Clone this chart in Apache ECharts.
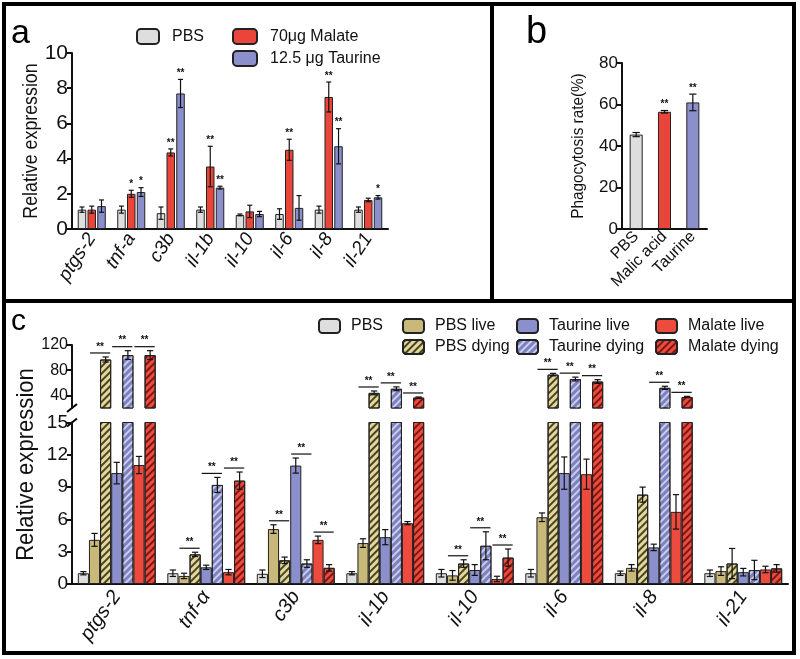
<!DOCTYPE html>
<html><head><meta charset="utf-8">
<script src="https://cdn.jsdelivr.net/npm/echarts@6/dist/echarts.min.js"></script>
<style>html,body{margin:0;padding:0;background:#fff}#main{width:800px;height:659px}</style>
</head><body><div id="main"></div>
<script>
// ---------- Panel a ----------
const catsA = ['ptgs-2','tnf-a','c3b','il-1b','il-10','il-6','il-8','il-21'];
const pbsA = [1.1, 1.1, 0.9, 1.1, 0.8, 0.85, 1.1, 1.1];
const pbsAErr = [0.15, 0.2, 0.35, 0.15, 0.05, 0.3, 0.2, 0.15];
const malA = [1.1, 2.0, 4.35, 3.55, 1.0, 4.5, 7.5, 1.65];
const malAErr = [0.2, 0.2, 0.2, 1.15, 0.35, 0.6, 0.85, 0.1];
const tauA = [1.3, 2.1, 7.7, 2.35, 0.85, 1.2, 4.7, 1.8];
const tauAErr = [0.35, 0.25, 0.8, 0.08, 0.15, 0.7, 1.0, 0.1];
const starsMalA = ['', '*', '**', '**', '', '**', '**', ''];
const starsTauA = ['', '*', '**', '**', '', '', '**', '*'];
const namesA = ['PBS', '70μg Malate', '12.5 μg Taurine'];

// ---------- Panel b ----------
const catsB = ['PBS', 'Malic acid', 'Taurine'];
const valB = [45.5, 56.5, 61];
const errB = [1, 0.6, 4];
const starsB = ['', '**', '**'];

// ---------- Panel c ----------
const catsC = ['ptgs-2','tnf-α','c3b','il-1b','il-10','il-6','il-8','il-21'];
const namesC = ['PBS','PBS live','PBS dying','Taurine live','Taurine dying','Malate live','Malate dying'];
const pbsC = [1.0, 1.0, 0.95, 1.0, 1.0, 1.0, 1.0, 1.0];
const pbsCErr = [0.15, 0.3, 0.35, 0.15, 0.35, 0.35, 0.2, 0.3];
const pbsLive = [4.1, 0.75, 5.1, 3.8, 0.8, 6.2, 1.5, 1.2];
const pbsLiveErr = [0.6, 0.25, 0.4, 0.4, 0.45, 0.4, 0.3, 0.4];
const pbsDying = [97, 2.75, 2.2, 44, 1.9, 73, 8.3, 1.9];
const pbsDyingErr = [4, 0.2, 0.3, 3, 0.35, 2, 0.7, 1.4];
const tauLive = [10.3, 1.55, 11.0, 4.35, 1.3, 10.3, 3.4, 1.1];
const tauLiveErr = [1.0, 0.2, 0.7, 0.7, 0.5, 1.5, 0.3, 0.35];
const tauDying = [104, 9.2, 1.9, 50.5, 3.55, 66, 52, 1.3];
const tauDyingErr = [7, 0.7, 0.35, 3, 1.3, 3, 2.5, 0.9];
const malLive = [11.05, 1.1, 4.1, 5.65, 0.47, 10.2, 6.7, 1.35];
const malLiveErr = [0.8, 0.25, 0.35, 0.15, 0.25, 1.4, 1.6, 0.3];
const malDying = [104, 9.6, 1.5, 36.5, 2.45, 62, 37.5, 1.45];
const malDyingErr = [7, 0.8, 0.3, 1, 0.8, 3, 1, 0.35];
// significance (live vs dying) per group: PBS, Taurine, Malate
const sigPBS = [1, 1, 1, 1, 1, 1, 0, 0];
const sigTau = [1, 1, 1, 1, 1, 1, 1, 0];
const sigMal = [1, 1, 1, 1, 1, 1, 1, 0];
const upperTicks = [40, 80, 120];

const FONT = "'Liberation Sans',Arial,sans-serif";
const INK = '#111';
const BREAK_LO = 15, BREAK_HI = 20;

const cGray = '#dedede', cRed = '#e9453b', cBlue = '#8b8fcb', cKhaki = '#c8b87a';
function decal(col, a, b) {
  return {symbol: 'rect', symbolSize: 1, dashArrayX: [1, 0], dashArrayY: [a, b], rotation: -Math.PI / 4, color: col};
}
const stylesC = [
  {color: cGray},
  {color: cKhaki},
  {color: '#e3d898', decal: decal('rgba(45,40,20,0.85)', 1.5, 2.5)},
  {color: cBlue},
  {color: '#7c81c4', decal: decal('rgba(255,255,255,0.6)', 1.2, 2.8)},
  {color: '#ee4a3e'},
  {color: '#ee4a3e', decal: decal('rgba(110,20,15,0.9)', 1.5, 2.5)}
];
stylesC.forEach(s => { s.borderColor = '#222'; s.borderWidth = 1; });
const valsC = [pbsC, pbsLive, pbsDying, tauLive, tauDying, malLive, malDying];
const errsC = [pbsCErr, pbsLiveErr, pbsDyingErr, tauLiveErr, tauDyingErr, malLiveErr, malDyingErr];

const GAP_A = 0.29, BGAP_A = 0.15, GAP_B = 0.54, GAP_C = 0.13, BGAP_C = 0;

function slotX(api, ci, v, sIdx, nS, catGap, barGap) {
  const band = api.size([1, 0])[0];
  const groupW = band * (1 - catGap);
  const w = groupW / (nS + (nS - 1) * barGap);
  const c = api.coord([ci, v])[0];
  return {x: c - groupW / 2 + sIdx * w * (1 + barGap) + w / 2, w: w};
}
function txt(x, y, text, font, va) {
  return {x: x, y: y, text: text, fill: INK, font: font, align: 'center', verticalAlign: va,
          textAlign: 'center', textVerticalAlign: va};
}
function errSeries(xi, yi, vals, errs, stars, sIdx, nS, catGap, barGap, keep) {
  const data = [];
  vals.forEach((v, i) => { if (keep(v)) data.push([i, v, errs[i], stars ? stars[i] : '']); });
  return {
    type: 'custom', xAxisIndex: xi, yAxisIndex: yi, z: 20, silent: true, clip: false,
    data: data.map(d => [d[0], d[1], d[2]]), encode: {x: 0, y: 1},
    renderItem: function (params, api) {
      const d = data[params.dataIndex];
      const ci = d[0], v = d[1], e = d[2], st = d[3];
      const s = slotX(api, ci, v, sIdx, nS, catGap, barGap);
      const yT = api.coord([ci, v + e])[1], yB = api.coord([ci, v - e])[1];
      const h = Math.max(2.5, s.w * 0.28);
      const ls = {stroke: INK, lineWidth: 1.2};
      const ch = [
        {type: 'line', shape: {x1: s.x, y1: yT, x2: s.x, y2: yB}, style: ls},
        {type: 'line', shape: {x1: s.x - h, y1: yT, x2: s.x + h, y2: yT}, style: ls},
        {type: 'line', shape: {x1: s.x - h, y1: yB, x2: s.x + h, y2: yB}, style: ls}
      ];
      if (st) ch.push({type: 'text', style: txt(s.x, yT - 1, st, 'bold 10px ' + FONT, 'bottom')});
      return {type: 'group', children: ch};
    }
  };
}
function sigSeries(xi, yi, upper) {
  const sigs = [sigPBS, sigTau, sigMal];
  const data = [];
  for (let i = 0; i < catsC.length; i++) {
    for (let p = 0; p < 3; p++) {
      if (!sigs[p][i]) continue;
      const li = 1 + 2 * p, di = 2 + 2 * p;
      const dv = valsC[di][i];
      const isUp = dv > BREAK_LO;
      if (isUp !== upper) continue;
      let top = dv + errsC[di][i];
      if (!isUp) top = Math.max(top, valsC[li][i] + errsC[li][i]);
      data.push([i, top, li, di]);
    }
  }
  return {
    type: 'custom', xAxisIndex: xi, yAxisIndex: yi, z: 20, silent: true, clip: false,
    data: data, encode: {x: 0, y: 1},
    renderItem: function (params, api) {
      const ci = api.value(0), top = api.value(1), li = api.value(2), di = api.value(3);
      const a = slotX(api, ci, top, li, 7, GAP_C, BGAP_C);
      const b = slotX(api, ci, top, di, 7, GAP_C, BGAP_C);
      const y = api.coord([ci, top])[1] - 4;
      const x1 = a.x - a.w / 2 + 1, x2 = b.x + b.w / 2 - 1;
      return {type: 'group', children: [
        {type: 'line', shape: {x1: x1, y1: y, x2: x2, y2: y}, style: {stroke: INK, lineWidth: 1.2}},
        {type: 'text', style: txt((x1 + x2) / 2, y - 1, '**', 'bold 10px ' + FONT, 'bottom')}
      ]};
    }
  };
}

const axisLineStyle = {show: true, lineStyle: {color: INK, width: 2}};
const yTick = {show: true, length: 5, lineStyle: {color: INK, width: 2}};

const series = [];
// panel a bars
const colorsA = [cGray, cRed, cBlue];
[pbsA, malA, tauA].forEach((vals, k) => {
  series.push({type: 'bar', name: namesA[k], xAxisIndex: 0, yAxisIndex: 0, data: vals,
    barCategoryGap: (GAP_A * 100) + '%', barGap: (BGAP_A * 100) + '%',
    itemStyle: {color: colorsA[k], borderColor: '#222', borderWidth: 1}});
});
series.push(errSeries(0, 0, pbsA, pbsAErr, null, 0, 3, GAP_A, BGAP_A, () => true));
series.push(errSeries(0, 0, malA, malAErr, starsMalA, 1, 3, GAP_A, BGAP_A, () => true));
series.push(errSeries(0, 0, tauA, tauAErr, starsTauA, 2, 3, GAP_A, BGAP_A, () => true));
// panel b
const colorsB = [cGray, cRed, cBlue];
series.push({type: 'bar', name: 'Phagocytosis', xAxisIndex: 1, yAxisIndex: 1, barCategoryGap: (GAP_B * 100) + '%',
  data: valB.map((v, i) => ({value: v, itemStyle: {color: colorsB[i], borderColor: '#222', borderWidth: 1}}))});
series.push(errSeries(1, 1, valB, errB, starsB, 0, 1, GAP_B, 0, () => true));
// panel c bars: upper (axis 2) and lower (axis 3)
namesC.forEach((nm, k) => {
  series.push({type: 'bar', name: nm, xAxisIndex: 3, yAxisIndex: 3, data: valsC[k], clip: true,
    barCategoryGap: (GAP_C * 100) + '%', barGap: '0%', itemStyle: stylesC[k]});
});
namesC.forEach((nm, k) => {
  series.push({type: 'bar', name: nm, xAxisIndex: 2, yAxisIndex: 2, clip: true,
    data: valsC[k].map(v => v > BREAK_LO ? v : '-'),
    barCategoryGap: (GAP_C * 100) + '%', barGap: '0%', itemStyle: stylesC[k]});
});
namesC.forEach((nm, k) => {
  series.push(errSeries(3, 3, valsC[k], errsC[k], null, k, 7, GAP_C, BGAP_C, v => v <= BREAK_LO));
  series.push(errSeries(2, 2, valsC[k], errsC[k], null, k, 7, GAP_C, BGAP_C, v => v > BREAK_LO));
});
series.push(sigSeries(3, 3, false));
series.push(sigSeries(2, 2, true));

const legText = (fs, pad, lh) => ({color: INK, fontFamily: FONT, fontSize: fs, lineHeight: lh, padding: [0, 0, 0, pad]});
const legBase = {padding: 0, selectedMode: false};
const option = {
  animation: false,
  backgroundColor: '#fff',
  textStyle: {fontFamily: FONT, color: INK},
  grid: [
    {left: 72, top: 53, width: 316, height: 176},
    {left: 622, top: 63, width: 85, height: 166},
    {left: 72, top: 345, width: 716, height: 63},
    {left: 72, top: 422.5, width: 716, height: 161.5}
  ],
  xAxis: [
    {gridIndex: 0, type: 'category', data: catsA, axisLine: axisLineStyle, axisTick: {show: false},
      axisLabel: {rotate: 57, margin: 6, fontSize: 19, fontStyle: 'italic', color: INK, fontFamily: FONT, interval: 0}},
    {gridIndex: 1, type: 'category', data: catsB, axisLine: axisLineStyle, axisTick: {show: false},
      axisLabel: {rotate: 45, margin: 5, fontSize: 16, color: INK, fontFamily: FONT, interval: 0}},
    {gridIndex: 2, type: 'category', data: catsC, show: false},
    {gridIndex: 3, type: 'category', data: catsC, axisLine: axisLineStyle, axisTick: {show: false},
      axisLabel: {rotate: 55, margin: 9, fontSize: 20, fontStyle: 'italic', color: INK, fontFamily: FONT, interval: 0}}
  ],
  yAxis: [
    {gridIndex: 0, type: 'value', min: 0, max: 10, interval: 2, axisLine: axisLineStyle, axisTick: yTick,
      splitLine: {show: false}, axisLabel: {fontSize: 21, margin: 4, color: INK, fontFamily: FONT}},
    {gridIndex: 1, type: 'value', min: 0, max: 80, interval: 20, axisLine: axisLineStyle, axisTick: yTick,
      splitLine: {show: false}, axisLabel: {fontSize: 17, margin: 4, color: INK, fontFamily: FONT}},
    {gridIndex: 2, type: 'value', min: BREAK_HI, max: 120, axisLine: axisLineStyle,
      axisTick: {show: true, length: 5, lineStyle: {color: INK, width: 2}, customValues: upperTicks},
      splitLine: {show: false},
      axisLabel: {fontSize: 16, margin: 4, color: INK, fontFamily: FONT, customValues: upperTicks}},
    {gridIndex: 3, type: 'value', min: 0, max: BREAK_LO, interval: 3, axisLine: axisLineStyle, axisTick: yTick,
      splitLine: {show: false}, axisLabel: {fontSize: 19, margin: 4, color: INK, fontFamily: FONT}}
  ],
  legend: [
    Object.assign({data: ['PBS'], left: 136, top: 28, itemWidth: 22, itemHeight: 15, textStyle: legText(16, 8, 15)}, legBase),
    Object.assign({data: ['70μg Malate', '12.5 μg Taurine'], orient: 'vertical', left: 232, top: 28, itemGap: 5,
      itemWidth: 24, itemHeight: 15, textStyle: legText(16, 8, 15)}, legBase),
    Object.assign({data: ['PBS'], left: 318, top: 318, itemWidth: 21, itemHeight: 14, textStyle: legText(16, 6, 14)}, legBase),
    Object.assign({data: ['PBS live', 'PBS dying'], orient: 'vertical', left: 402, top: 318, itemGap: 5,
      itemWidth: 21, itemHeight: 14, textStyle: legText(16, 6, 14)}, legBase),
    Object.assign({data: ['Taurine live', 'Taurine dying'], orient: 'vertical', left: 516, top: 318, itemGap: 5,
      itemWidth: 21, itemHeight: 14, textStyle: legText(16, 6, 14)}, legBase),
    Object.assign({data: ['Malate live', 'Malate dying'], orient: 'vertical', left: 655, top: 318, itemGap: 5,
      itemWidth: 21, itemHeight: 14, textStyle: legText(16, 6, 14)}, legBase)
  ],
  series: series
};

const chart = echarts.init(document.getElementById('main'), null, {renderer: 'canvas'});
chart.setOption(option);

// decorations: panel frames, panel letters, broken-axis marks, rotated axis titles
const yUpBot = chart.convertToPixel({yAxisIndex: 2}, BREAK_HI);
const yLoTop = chart.convertToPixel({yAxisIndex: 3}, BREAK_LO);
const xc0 = chart.convertToPixel({xAxisIndex: 3}, catsC[0]);
const xc1 = chart.convertToPixel({xAxisIndex: 3}, catsC[1]);
const xAx = xc0 - (xc1 - xc0) / 2;
const yMidC = (chart.convertToPixel({yAxisIndex: 2}, 120) + chart.convertToPixel({yAxisIndex: 3}, 0)) / 2;
const yMidA = (chart.convertToPixel({yAxisIndex: 0}, 10) + chart.convertToPixel({yAxisIndex: 0}, 0)) / 2;
const yMidB = (chart.convertToPixel({yAxisIndex: 1}, 80) + chart.convertToPixel({yAxisIndex: 1}, 0)) / 2;
const frame = {stroke: '#000', lineWidth: 4, fill: null};
function vTitle(x, y, text, fs, sx) {
  return {type: 'text', x: x, y: y, rotation: Math.PI / 2, scaleX: sx, silent: true,
    style: {x: 0, y: 0, text: text, font: fs + 'px ' + FONT, fill: INK,
      align: 'center', verticalAlign: 'middle', textAlign: 'center', textVerticalAlign: 'middle'}};
}
chart.setOption({
  graphic: [
    {type: 'rect', shape: {x: 4, y: 4, width: 790, height: 649}, style: frame, silent: true},
    {type: 'line', shape: {x1: 4, y1: 301, x2: 794, y2: 301}, style: {stroke: '#000', lineWidth: 4}, silent: true},
    {type: 'line', shape: {x1: 492, y1: 4, x2: 492, y2: 301}, style: {stroke: '#000', lineWidth: 4}, silent: true},
    {type: 'text', style: {x: 11, y: 17, text: 'a', font: '34px ' + FONT, fill: '#000'}, silent: true},
    {type: 'text', style: {x: 526, y: 14, text: 'b', font: '38px ' + FONT, fill: '#000'}, silent: true},
    {type: 'text', style: {x: 11, y: 307, text: 'c', font: '30px ' + FONT, fill: '#000'}, silent: true},
    {type: 'line', shape: {x1: xAx - 5, y1: yUpBot + 4, x2: xAx + 5, y2: yUpBot - 4}, style: {stroke: '#000', lineWidth: 2}, silent: true},
    {type: 'line', shape: {x1: xAx - 5, y1: yLoTop + 4, x2: xAx + 5, y2: yLoTop - 4}, style: {stroke: '#000', lineWidth: 2}, silent: true},
    vTitle(31, yMidA, 'Relative expression', 20, 0.89),
    vTitle(578, yMidB, 'Phagocytosis rate(%)', 17, 0.9),
    vTitle(26, yMidC, 'Relative expression', 24, 0.92)
  ]
});
</script></body></html>
